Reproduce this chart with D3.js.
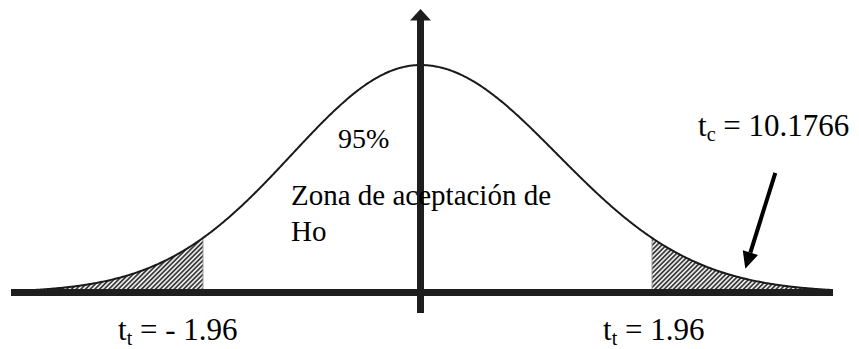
<!DOCTYPE html>
<html>
<head>
<meta charset="utf-8">
<script src="https://cdn.jsdelivr.net/npm/d3@7"></script>
</head>
<body style="margin:0">
<div id="chart"></div>
<script>
// values
let criticalValues = [-1.96, 1.96]
let tCalculated = 10.1766
let confidence = 95
let zoneLines = ['Zona de aceptación de', 'Ho']
let curveSd = 1.16 // spread of the drawn bell, in t units

let width = 859
let height = 349
let serif = "'Liberation Serif', 'Tinos', 'Times New Roman', 'FreeSerif', 'Nimbus Roman'"

let svg = d3
  .select('#chart')
  .append('svg')
  .attr('width', width)
  .attr('height', height)
  .style('font-family', serif)

// piecewise scale: the drawing is a little wider on the right than the left
let xScale = d3
  .scaleLinear()
  .domain([criticalValues[0], 0, criticalValues[1]])
  .range([203, 420.5, 652])

let pdf = t => Math.exp(-0.5 * (t / curveSd) ** 2) / (curveSd * Math.sqrt(2 * Math.PI))

let yScale = d3
  .scaleLinear()
  .domain([0, pdf(0)])
  .range([292.5, 65])

let tMin = xScale.invert(11)
let tMax = xScale.invert(833)

let curvePoints = d3.range(tMin, tMax, 0.01).concat([tMax])

let line = d3
  .line()
  .x(d => xScale(d))
  .y(d => yScale(pdf(d)))

let area = d3
  .area()
  .x(d => xScale(d))
  .y0(yScale(0))
  .y1(d => yScale(pdf(d)))

// hatch pattern for the rejection tails
let defs = svg.append('defs')
defs
  .append('pattern')
  .attr('id', 'hatch')
  .attr('patternUnits', 'userSpaceOnUse')
  .attr('width', 3.3)
  .attr('height', 3.3)
  .attr('patternTransform', 'rotate(45)')
  .append('line')
  .attr('x1', 1)
  .attr('y1', 0)
  .attr('x2', 1)
  .attr('y2', 3.3)
  .attr('stroke', '#2a2a2a')
  .attr('stroke-width', 1.7)

let tails = [
  curvePoints.filter(d => d <= criticalValues[0]).concat([criticalValues[0]]),
  [criticalValues[1]].concat(curvePoints.filter(d => d >= criticalValues[1]))
]

svg
  .selectAll('.tail')
  .data(tails)
  .enter()
  .append('path')
  .attr('class', 'tail')
  .attr('d', area)
  .attr('fill', 'url(#hatch)')

svg
  .selectAll('.cut')
  .data(criticalValues)
  .enter()
  .append('line')
  .attr('class', 'cut')
  .attr('x1', d => xScale(d))
  .attr('x2', d => xScale(d))
  .attr('y1', yScale(0))
  .attr('y2', d => yScale(pdf(d)))
  .attr('stroke', '#999')
  .attr('stroke-width', 1)

// the bell
svg
  .append('path')
  .datum(curvePoints)
  .attr('d', line)
  .attr('fill', 'none')
  .attr('stroke', '#1a1a1a')
  .attr('stroke-width', 2)

// horizontal axis
svg
  .append('line')
  .attr('x1', xScale(tMin))
  .attr('x2', xScale(tMax))
  .attr('y1', yScale(0))
  .attr('y2', yScale(0))
  .attr('stroke', '#1e1e1e')
  .attr('stroke-width', 7)

// vertical axis with arrow head
svg
  .append('line')
  .attr('x1', xScale(0))
  .attr('x2', xScale(0))
  .attr('y1', 313)
  .attr('y2', 19)
  .attr('stroke', '#1e1e1e')
  .attr('stroke-width', 7)

svg
  .append('path')
  .attr('d', d3.line()([
    [xScale(0), 9],
    [xScale(0) + 10.5, 20.5],
    [xScale(0) - 10.5, 20.5]
  ]))
  .attr('fill', '#1e1e1e')

// text inside the bell
svg
  .append('text')
  .attr('x', 338)
  .attr('y', 148)
  .style('font-family', serif)
  .style('font-size', '28px')
  .text(confidence + '%')

svg
  .selectAll('.zone')
  .data(zoneLines)
  .enter()
  .append('text')
  .attr('class', 'zone')
  .attr('x', 291)
  .attr('y', (d, i) => 205 + i * 36)
  .style('font-family', serif)
  .style('font-size', '29px')
  .text(d => d)

// t labels
function tLabel(x, y, sub, value, size) {
  let t = svg
    .append('text')
    .attr('x', x)
    .attr('y', y)
    .style('font-family', serif)
    .style('font-size', size + 'px')
  t.append('tspan').text('t')
  t.append('tspan')
    .style('font-size', size * 0.65 + 'px')
    .attr('dy', size * 0.15)
    .text(sub)
  t.append('tspan')
    .attr('dy', -size * 0.15)
    .text(value < 0 ? ' = - ' + Math.abs(value) : ' = ' + value)
}

tLabel(118, 340, 't', criticalValues[0], 31)
tLabel(603, 340, 't', criticalValues[1], 31)
tLabel(698, 136, 'c', tCalculated, 31)

// arrow pointing at the right tail
let tip = [xScale(2.75), yScale(pdf(2.75)) - 10]
let tail = [tip[0] + 30, tip[1] - 96]
let ang = Math.atan2(tip[1] - tail[1], tip[0] - tail[0])
let headLen = 17
let headW = 8
let base = [tip[0] - headLen * Math.cos(ang), tip[1] - headLen * Math.sin(ang)]

svg
  .append('line')
  .attr('x1', tail[0])
  .attr('y1', tail[1])
  .attr('x2', base[0])
  .attr('y2', base[1])
  .attr('stroke', '#000')
  .attr('stroke-width', 4)

svg
  .append('path')
  .attr('d', d3.line()([
    tip,
    [base[0] + headW * Math.sin(ang), base[1] - headW * Math.cos(ang)],
    [base[0] - headW * Math.sin(ang), base[1] + headW * Math.cos(ang)]
  ]))
  .attr('fill', '#000')
</script>
</body>
</html>
